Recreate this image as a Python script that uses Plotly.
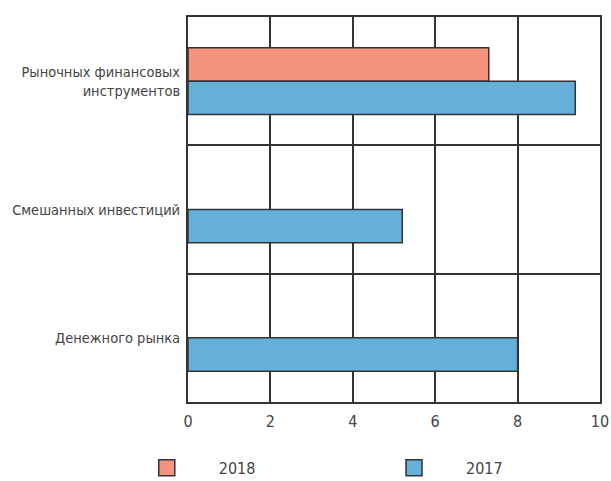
import plotly.graph_objects as go

categories = ["Рыночных финансовых<br>инструментов", "Смешанных инвестиций", "Денежного рынка"]
values_2018 = [7.3, None, None]
values_2017 = [9.4, 5.2, 8.0]
series_names = ["2018", "2017"]
series_colors = ["#F4947F", "#64B0D8"]
x_ticks = [0, 2, 4, 6, 8, 10]

FONT = "Liberation Sans Narrow, DejaVu Sans Condensed, Arial Narrow, sans-serif"
pad = "\u00a0" * 7
legend_ids = ["legend", "legend2"]

fig = go.Figure()
for name, vals, col in zip(series_names, [values_2018, values_2017], series_colors):
    fig.add_trace(go.Bar(
        y=categories, x=vals, orientation="h", name=name, showlegend=False,
        legendgroup=name,
        marker=dict(color=col, line=dict(color="#333333", width=1.5)),
    ))
# legend proxies (one per legend box)
for name, col, lid in zip(series_names, series_colors, legend_ids):
    fig.add_trace(go.Scatter(
        x=[None], y=[None], mode="markers", name=pad + name, legendgroup=name,
        legend=lid,
        marker=dict(symbol="square", size=20, color=col, line=dict(color="#333333", width=1.5)),
    ))

leg_common = dict(
    orientation="h", xanchor="left", yanchor="middle", y=-0.171,
    font=dict(family=FONT, size=16, color="#444444"),
    bgcolor="rgba(0,0,0,0)",
)
fig.update_layout(
    width=611, height=481,
    margin=dict(l=188, r=11, t=17, b=79, autoexpand=False),
    paper_bgcolor="white", plot_bgcolor="white",
    barmode="group", bargap=0.48, bargroupgap=0,
    font=dict(family=FONT, size=14.5, color="#444444"),
    legend=dict(x=-0.1, **leg_common),
    legend2=dict(x=0.5, **leg_common),
    showlegend=True,
)
fig.update_xaxes(
    range=[0, 10], tickvals=x_ticks, ticktext=[str(v) for v in x_ticks],
    showgrid=True, gridcolor="#333333", gridwidth=2,
    showline=True, linecolor="#333333", linewidth=2, mirror=True,
    ticks="", zeroline=False, tickfont=dict(size=16), ticklabelstandoff=4,
    ticklabeloverflow="allow", automargin=False,
)
fig.update_yaxes(
    autorange="reversed", tickson="boundaries",
    showgrid=True, gridcolor="#333333", gridwidth=2,
    showline=True, linecolor="#333333", linewidth=2, mirror=True,
    ticks="", ticklabelstandoff=3, automargin=False,
)

fig.write_html(
    "out.html",
    config={"displayModeBar": False},
    post_script="document.body.style.margin='0';document.body.style.overflow='hidden';",
)
